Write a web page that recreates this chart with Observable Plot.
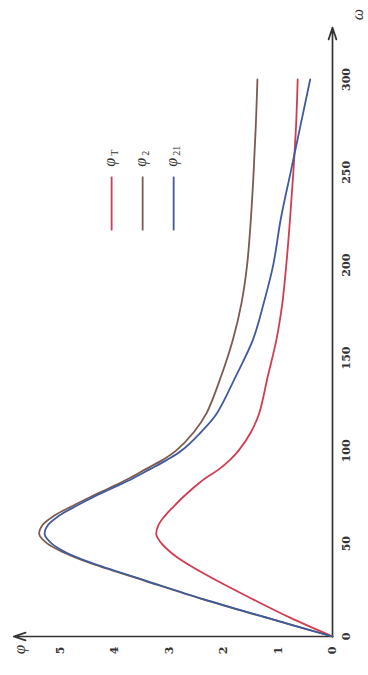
<!DOCTYPE html>
<html><head><meta charset="utf-8">
<script src="https://cdn.jsdelivr.net/npm/d3@7"></script>
<script src="https://cdn.jsdelivr.net/npm/@observablehq/plot@0.6"></script>
<style>
html,body{margin:0;padding:0;background:#fff;}
#wrap{position:relative;width:368px;height:675px;overflow:hidden;background:#fff;}
#wrap svg{position:absolute;left:0;top:0;width:675px !important;height:368px !important;max-width:none !important;transform-origin:0 0;transform:translateY(675px) rotate(-90deg);}
</style></head><body><div id="wrap"></div>
<script>
// ω values (horizontal axis of the unrotated chart)
const omega = [0,10,20,30,40,45,50,55,60,65,70,75,80,85,90,95,100,110,120,140,160,180,200,225,250,275,300];
// series φ values
const phiT  = [0,0.77,1.46,2.12,2.72,2.96,3.14,3.24,3.20,3.08,2.92,2.75,2.56,2.35,2.09,1.89,1.73,1.50,1.35,1.19,1.03,0.92,0.85,0.78,0.72,0.67,0.64];
const phi2  = [0,1.20,2.38,3.45,4.50,4.92,5.24,5.39,5.33,5.12,4.80,4.46,4.10,3.75,3.44,3.13,2.88,2.55,2.32,2.05,1.83,1.67,1.57,1.50,1.45,1.41,1.38];
const phi21 = [0,1.19,2.36,3.42,4.46,4.88,5.16,5.29,5.23,5.03,4.73,4.40,4.04,3.68,3.36,3.05,2.78,2.42,2.13,1.78,1.46,1.26,1.09,0.95,0.77,0.59,0.41];
const seriesKeys = ["φT","φ2","φ21"];
const seriesSubs = ["T","2","21"];
const seriesColors = ["#d23c50","#7d5a50","#3f5b9e"];
const xTicks = [0,50,100,150,200,250,300];
const yTicks = [0,1,2,3,4,5];

const seriesValues = [phiT, phi2, phi21];
const series = seriesKeys.map((k,i)=>({key:k, sub:seriesSubs[i], idx:i}));
const rows = seriesKeys.flatMap((k,si)=>omega.map((w,i)=>({omega:w, phi:seriesValues[si][i], key:k})));

// legend layout (in data units of the plot)
const LEG = {x1:219, x2:248, labelX:253, top:4.06, step:0.57};
const legY = d => LEG.top - d.idx*LEG.step;

const plot = Plot.plot({
  width:675, height:368,
  marginLeft:38, marginBottom:36, marginTop:13, marginRight:20,
  style:{background:"transparent", fontFamily:"'DejaVu Serif', 'Liberation Serif', serif", overflow:"visible"},
  x:{domain:[0,300], range:[38,595]},
  y:{domain:[0,5], range:[332,60]},
  color:{domain:seriesKeys, range:seriesColors},
  marks:[
    Plot.axisX(xTicks, {tickSize:0, tickPadding:10, fontSize:11, fontWeight:"bold", fill:"#333", label:null, tickFormat:d=>String(d)}),
    Plot.axisY(yTicks, {tickSize:0, tickPadding:10, fontSize:11, fontWeight:"bold", fill:"#333", label:null, tickFormat:d=>String(d)}),
    Plot.arrow([{a:0,b:0,c:328,d:0},{a:0,b:0,c:0,d:5.86}], {x1:"a", y1:"b", x2:"c", y2:"d", stroke:"#333", strokeWidth:1.7, headLength:11, headAngle:36}),
    Plot.line(rows, {x:"omega", y:"phi", stroke:"key", z:"key", curve:"catmull-rom", strokeWidth:1.8}),
    Plot.ruleY(series, {y:legY, x1:LEG.x1, x2:LEG.x2, stroke:"key", strokeWidth:1.8}),
    Plot.text(series, {x:LEG.labelX, y:legY, text:()=>"φ", fontStyle:"italic", fontSize:16, textAnchor:"start", fill:"#333", dy:-2, fontFamily:"'Liberation Serif', serif"}),
    Plot.text(series, {x:LEG.labelX, y:legY, text:"sub", fontSize:10, textAnchor:"start", fill:"#333", dx:11, dy:3, fontFamily:"'Liberation Serif', serif"}),
    Plot.text(["ω"], {x:335, y:-0.47, text:d=>d, fontStyle:"italic", fontSize:16, fill:"#333", fontFamily:"'Liberation Serif', serif"}),
    Plot.text(["φ"], {x:-7, y:5.75, text:d=>d, fontStyle:"italic", fontSize:17, fill:"#333", fontFamily:"'Liberation Serif', serif"})
  ]
});
document.getElementById("wrap").appendChild(plot);
</script></body></html>
